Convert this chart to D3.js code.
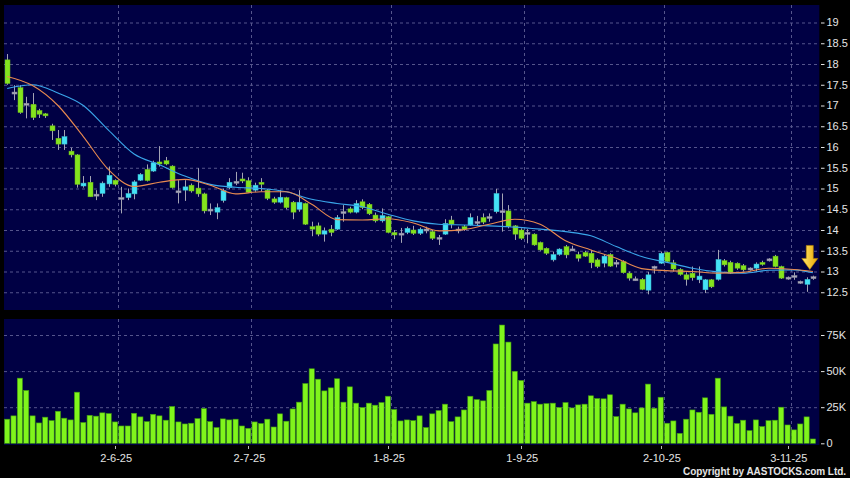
<!DOCTYPE html>
<html><head><meta charset="utf-8">
<script src="https://cdn.jsdelivr.net/npm/d3@7"></script>
<style>html,body{margin:0;padding:0;background:#000;overflow:hidden}svg{display:block}</style>
</head><body>
<svg id="c" width="850" height="478"></svg>
<script>
// ---- data ----
const opens = [18.10,17.30,17.43,17.03,17.03,16.88,16.80,16.51,16.21,16.07,
15.90,15.81,15.06,15.15,14.84,14.88,15.11,15.20,14.76,14.78,
14.87,15.20,15.46,15.42,15.64,15.67,15.54,14.92,14.96,15.08,
15.01,14.87,14.48,14.43,14.71,15.02,15.15,15.23,15.19,14.96,
15.15,14.96,14.75,14.67,14.78,14.67,14.50,14.64,14.08,14.10,
13.90,14.02,14.02,14.42,14.51,14.43,14.68,14.62,14.36,14.22,
14.32,13.94,13.90,13.94,14.00,13.92,14.00,13.96,13.80,13.90,
14.24,14.00,14.08,14.12,14.18,14.30,14.30,14.44,14.44,14.46,
14.10,14.00,13.92,13.90,13.70,13.56,13.28,13.41,13.60,13.52,
13.41,13.46,13.44,13.28,13.20,13.41,13.20,13.24,12.96,12.80,
12.81,12.55,13.10,13.20,13.46,13.21,13.05,12.92,12.96,12.80,
12.56,12.80,12.81,13.26,13.22,13.20,13.14,13.06,13.08,13.22,
13.28,13.37,13.12,12.84,12.88,12.74,12.69,12.85];
const closes = [17.53,17.30,16.83,17.03,16.71,16.79,16.75,16.39,16.07,16.25,
15.81,15.10,15.13,14.80,14.84,15.13,15.32,15.10,14.76,14.88,
15.16,15.34,15.19,15.62,15.59,15.59,15.02,14.92,15.04,14.94,
14.87,14.46,14.48,14.54,14.95,15.15,15.15,15.18,14.91,15.08,
15.11,14.76,14.67,14.79,14.54,14.43,14.67,14.14,14.02,13.90,
13.98,13.94,14.30,14.42,14.43,14.64,14.54,14.39,14.22,14.35,
13.94,13.88,13.90,14.04,13.92,14.02,14.00,13.80,13.80,14.16,
14.14,14.00,14.02,14.30,14.18,14.19,14.30,14.88,14.44,14.08,
13.90,13.80,13.92,13.64,13.52,13.44,13.41,13.54,13.40,13.52,
13.32,13.37,13.21,13.12,13.37,13.13,13.20,12.97,12.84,12.80,
12.57,12.92,13.10,13.44,13.24,13.06,12.93,12.81,12.85,12.89,
12.80,12.63,13.29,13.16,12.96,13.08,13.04,13.06,13.18,13.17,
13.28,13.12,12.84,12.84,12.88,12.74,12.81,12.85];
const highs = [18.24,17.49,17.49,17.21,17.30,16.92,16.82,16.56,16.41,16.41,
15.98,15.83,15.30,15.30,14.96,15.17,15.53,15.22,15.04,15.00,
15.20,15.37,15.58,15.67,16.02,15.76,15.56,15.20,15.20,15.12,
15.49,14.90,14.64,14.64,15.00,15.25,15.40,15.38,15.27,15.14,
15.25,14.99,14.80,14.96,14.80,14.70,14.96,14.66,14.20,14.18,
14.06,14.12,14.36,14.60,14.56,14.72,14.74,14.65,14.42,14.52,
14.34,14.00,14.05,14.08,14.10,14.06,14.08,14.00,13.88,14.26,
14.34,14.08,14.12,14.40,14.34,14.40,14.40,14.99,14.88,14.60,
14.12,14.04,14.02,13.92,13.72,13.58,13.48,13.56,13.64,13.62,
13.48,13.50,13.52,13.32,13.42,13.44,13.28,13.27,13.00,12.88,
12.84,12.99,13.14,13.48,13.48,13.28,13.08,12.98,13.12,13.12,
12.82,12.82,13.52,13.30,13.26,13.22,13.18,13.10,13.22,13.26,
13.32,13.40,13.14,12.88,12.98,12.78,12.86,12.90];
const lows = [17.50,17.13,16.80,16.69,16.65,16.70,16.70,16.17,15.93,15.93,
15.75,15.02,15.02,14.80,14.72,14.80,15.04,15.05,14.40,14.72,
14.74,15.18,15.17,15.40,15.53,15.56,15.00,14.64,14.70,14.90,
14.80,14.40,14.36,14.26,14.66,14.98,15.08,15.13,14.90,14.92,
14.93,14.72,14.63,14.64,14.50,14.26,14.44,14.12,13.85,13.85,
13.72,13.85,14.00,14.20,14.40,14.40,14.50,14.36,14.18,14.18,
13.92,13.78,13.69,13.90,13.88,13.88,13.92,13.76,13.64,13.88,
14.04,13.92,13.98,14.10,14.10,14.14,14.20,14.40,13.96,14.04,
13.76,13.76,13.68,13.62,13.50,13.40,13.24,13.38,13.32,13.50,
13.24,13.35,13.08,13.08,13.10,13.11,13.10,12.95,12.78,12.78,
12.55,12.45,12.95,13.18,13.22,13.00,12.90,12.66,12.78,12.72,
12.48,12.60,12.78,13.12,12.94,13.04,13.00,13.02,13.00,13.14,
13.24,13.10,12.82,12.80,12.80,12.70,12.51,12.80];
const volumesK = [16.7,19.0,45.1,36.6,19.0,14.1,18.1,15.7,22.2,17.4,
16.2,35.4,14.4,19.4,18.8,21.1,20.6,14.8,12.0,12.0,
20.8,18.3,15.0,20.1,19.0,16.0,25.5,14.8,13.4,13.9,
17.1,24.1,15.0,10.9,16.9,16.2,16.7,12.0,10.4,14.8,
13.7,16.7,11.3,20.4,15.3,23.8,28.5,41.4,51.6,44.4,
36.3,38.4,44.7,28.5,39.1,27.8,24.8,27.8,26.4,28.2,
32.6,23.4,15.5,16.2,15.7,19.0,10.9,20.4,22.7,27.1,
15.0,18.3,23.1,32.6,30.3,29.4,36.6,68.8,81.9,70.1,
49.8,43.5,27.8,28.9,27.1,27.5,27.8,24.8,28.2,24.5,
26.6,27.1,32.9,31.0,30.8,33.6,18.5,27.1,23.8,21.1,
24.5,41.0,24.3,31.9,13.9,15.5,6.9,16.7,23.1,21.5,
31.5,20.1,45.1,25.2,18.8,13.7,16.0,8.8,16.2,11.6,
15.7,16.0,25.0,12.7,9.3,13.4,18.3,3.0];
// moving averages, sampled at these bar indices
const maIdx = [0,4,8,12,16,20,24,28,32,36,40,44,48,52,56,60,64,68,72,76,80,84,88,92,96,100,104,108,112,116,120,124,127];
const maShort = [17.70,17.48,17.00,16.25,15.45,15.05,15.15,15.22,15.08,14.87,14.92,14.92,14.62,14.25,14.24,14.27,14.17,13.98,14.01,14.14,14.26,14.14,13.74,13.52,13.32,13.07,13.02,13.00,12.96,12.98,13.08,13.05,13.00];
const maLong = [17.41,17.50,17.30,17.00,16.40,15.83,15.57,15.30,15.10,15.03,15.00,14.92,14.74,14.64,14.56,14.38,14.22,14.14,14.12,14.10,14.07,14.02,13.96,13.86,13.60,13.36,13.22,13.08,12.99,12.96,13.03,13.04,12.97];
const xTickIdx = [18,39,61,82,104,124];
const xTickLabels = ["2-6-25","2-7-25","1-8-25","1-9-25","2-10-25","3-11-25"];
const priceTicks = [12.5,13,13.5,14,14.5,15,15.5,16,16.5,17,17.5,18,18.5,19];
const volTicks = [0,25,50,75];
const volTickLabels = ["0","25K","50K","75K"];

// ---- layout ----
const svg = d3.select("#c");
const L = 4, R = 819.3;
const P = {top:5, bottom:310};
const V = {top:319, bottom:445};
const n = opens.length;
const x = d3.scaleLinear().domain([-0.5, n]).range([L, R]);
const step = x(1) - x(0);
const yP = d3.scaleLinear().domain([12.5, 19]).range([292.25, 22.5]);
const yV = d3.scaleLinear().domain([0, 75]).range([443.3, 335]);

const gridCol = "#55558c";
const txtCol = "#e4e4e4";
const font = "'Liberation Sans', Arial, sans-serif";

svg.append("rect").attr("width",850).attr("height",478).attr("fill","#000");
[P, V].forEach(p => svg.append("rect").attr("x",L).attr("y",p.top).attr("width",R-L).attr("height",p.bottom-p.top).attr("fill","#000044"));

// grids
svg.append("g").selectAll("line").data(priceTicks).join("line")
  .attr("x1",L).attr("x2",R).attr("y1",d=>yP(d)+0.5).attr("y2",d=>yP(d)+0.5)
  .attr("stroke",gridCol).attr("stroke-dasharray","3,3");
svg.append("g").selectAll("line").data(volTicks.slice(1)).join("line")
  .attr("x1",L).attr("x2",R).attr("y1",d=>yV(d)+0.5).attr("y2",d=>yV(d)+0.5)
  .attr("stroke",gridCol).attr("stroke-dasharray","3,3");
[P, V].forEach(p => {
  svg.append("g").selectAll("line").data(xTickIdx).join("line")
    .attr("x1",d=>Math.round(x(d-0.5))+0.5).attr("x2",d=>Math.round(x(d-0.5))+0.5)
    .attr("y1",p.top).attr("y2",p.bottom)
    .attr("stroke",gridCol).attr("stroke-dasharray","3,3");
});

// volume bars
const idx = d3.range(n);
svg.append("g").selectAll("rect").data(idx).join("rect")
  .attr("x",i=>x(i)-step/2+0.6).attr("width",step-1.2)
  .attr("y",i=>yV(volumesK[i])).attr("height",i=>yV(0)-yV(volumesK[i]))
  .attr("fill","#80f41c").attr("stroke","#3e9a10").attr("stroke-width",0.6);

// candles
const colOf = i => closes[i] > opens[i] ? "#44e2f6" : (closes[i] < opens[i] ? "#84e41e" : "#a8a8bc");
const gc = svg.append("g");
gc.selectAll("line").data(idx).join("line")
  .attr("x1",i=>Math.round(x(i))+0.5).attr("x2",i=>Math.round(x(i))+0.5)
  .attr("y1",i=>yP(highs[i])).attr("y2",i=>yP(lows[i]))
  .attr("stroke","#a4a4b4").attr("stroke-width",1);
const bw = 5;
gc.selectAll("rect").data(idx).join("rect")
  .attr("x",i=>Math.round(x(i))+0.5-bw/2).attr("width",bw)
  .attr("y",i=>Math.min(yP(opens[i]),yP(closes[i])) - (opens[i]===closes[i]?1:0))
  .attr("height",i=>Math.max(2, Math.abs(yP(opens[i])-yP(closes[i]))))
  .attr("fill",colOf)
  .attr("stroke",i=>d3.color(colOf(i)).darker(0.6)).attr("stroke-width",0.5);

// moving averages
const line = arr => d3.line().x((d,k)=>x(maIdx[k])).y(d=>yP(d)).curve(d3.curveMonotoneX)(arr);
svg.append("path").attr("d",line(maLong)).attr("fill","none").attr("stroke","#3aa6ea").attr("stroke-width",1.1);
svg.append("path").attr("d",line(maShort)).attr("fill","none").attr("stroke","#e88a50").attr("stroke-width",1.1);

// arrow marker above last bars
const ax = x(n - 1.5), atip = yP(13.05);
const arrowPath = `M${ax-3.5},${atip-24} L${ax+3.5},${atip-24} L${ax+3.5},${atip-11} L${ax+8},${atip-11} L${ax},${atip} L${ax-8},${atip-11} L${ax-3.5},${atip-11} Z`;
const defs = svg.append("defs");
const grad = defs.append("linearGradient").attr("id","ag").attr("x1","0").attr("x2","1");
grad.append("stop").attr("offset","0").attr("stop-color","#ffe670");
grad.append("stop").attr("offset","1").attr("stop-color","#e8a800");
svg.append("path").attr("d",arrowPath).attr("fill","url(#ag)").attr("stroke","#b88400").attr("stroke-width",0.6);

// right axes
const ra = svg.append("g").attr("font-family",font).attr("font-size","11px").attr("fill",txtCol);
ra.selectAll("line.p").data(priceTicks).join("line").attr("class","p")
  .attr("x1",821).attr("x2",824.5).attr("y1",d=>yP(d)+0.5).attr("y2",d=>yP(d)+0.5).attr("stroke",txtCol);
ra.selectAll("text.p").data(priceTicks).join("text").attr("class","p")
  .attr("x",826.5).attr("y",d=>yP(d)).attr("dy","0.36em").text(d=>d3.format("")(d));
ra.selectAll("line.v").data(volTicks).join("line").attr("class","v")
  .attr("x1",821).attr("x2",824.5).attr("y1",d=>yV(d)+0.5).attr("y2",d=>yV(d)+0.5).attr("stroke",txtCol);
ra.selectAll("text.v").data(volTicks).join("text").attr("class","v")
  .attr("x",826.5).attr("y",d=>yV(d)).attr("dy","0.36em").text((d,k)=>volTickLabels[k]);

// x axis
const xa = svg.append("g").attr("font-family",font).attr("font-size","11px").attr("fill",txtCol);
xa.selectAll("line").data(xTickIdx).join("line")
  .attr("x1",d=>Math.round(x(d-0.5))-2.5).attr("x2",d=>Math.round(x(d-0.5))-2.5)
  .attr("y1",V.bottom+1).attr("y2",V.bottom+4).attr("stroke","#bbb");
xa.selectAll("text").data(xTickIdx).join("text")
  .attr("x",d=>x(d-0.5)-2).attr("y",462).attr("text-anchor","middle")
  .text((d,k)=>xTickLabels[k]);

svg.append("text").attr("x",683).attr("y",475)
  .attr("font-family",font).attr("font-size","10px").attr("font-weight","bold")
  .attr("textLength",163).attr("lengthAdjust","spacing").attr("fill",txtCol)
  .text("Copyright by AASTOCKS.com Ltd.");
</script>
</body></html>
